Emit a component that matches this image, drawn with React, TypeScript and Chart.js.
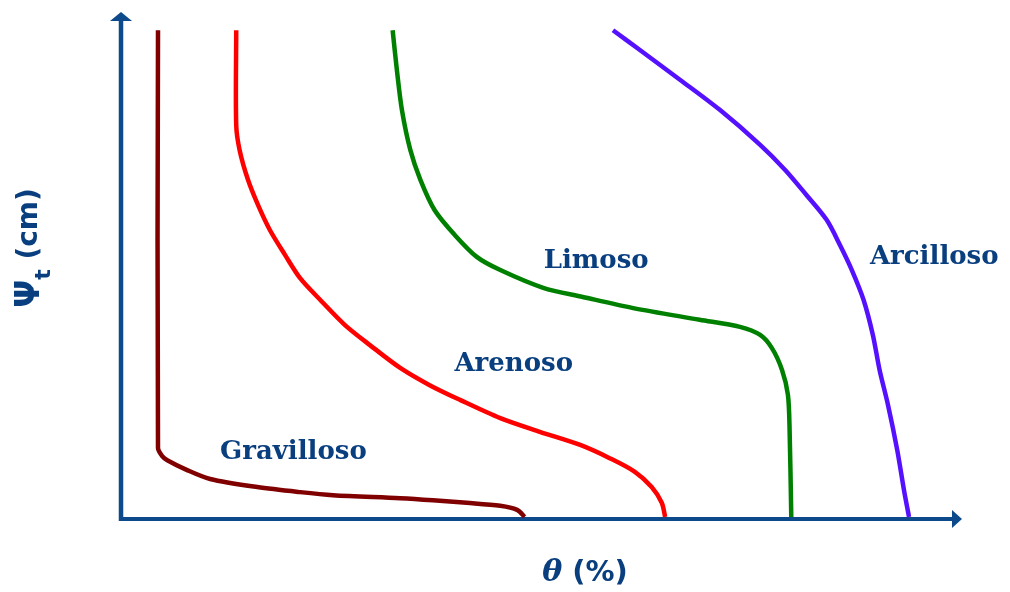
import React, { useEffect, useRef } from "react";
import { Chart, registerables } from "chart.js";

Chart.register(...registerables);

// θ (%) values (arbitrary 0–100 scale, no ticks in the original)
const gravX = [4.4, 4.4, 4.9, 5.5, 7.8, 10.6, 16.2, 21.3, 25.2, 33.2, 37.1, 41.1, 45.1, 47.1, 48.0];
const gravY = [96.4, 14.0, 12.4, 11.6, 9.7, 7.9, 6.3, 5.3, 4.7, 4.1, 3.7, 3.2, 2.6, 1.8, 0.4];

const arenX = [13.7, 13.7, 14.1, 15.1, 16.3, 17.7, 19.5, 21.3, 23.7, 26.6, 29.6, 33.2, 36.7, 40.3, 45.1, 49.8, 54.6, 58.1, 61.1, 63.1, 64.3, 64.7];
const arenY = [96.4, 77.7, 72.8, 66.9, 61.9, 57.0, 52.1, 47.5, 43.2, 38.3, 34.3, 29.8, 26.4, 23.5, 19.9, 17.2, 14.6, 12.0, 9.3, 6.3, 3.2, 0.4];

const limoX = [32.3, 32.8, 33.4, 34.4, 35.6, 37.3, 39.7, 42.3, 45.1, 50.2, 54.9, 60.9, 68.8, 73.6, 76.0, 77.4, 78.6, 79.3, 79.5, 79.7];
const limoY = [96.4, 88.6, 80.7, 72.8, 66.9, 60.9, 56.0, 51.7, 49.1, 45.6, 43.8, 41.6, 39.3, 37.9, 36.3, 33.7, 29.4, 24.5, 17.6, 0.4];

const arciX = [58.5, 61.7, 66.5, 71.2, 76.0, 79.0, 81.5, 83.9, 85.5, 86.9, 88.3, 89.4, 90.2, 91.2, 92.3, 93.1, 93.7];
const arciY = [96.4, 92.5, 86.6, 80.7, 73.8, 68.8, 63.9, 59.0, 54.0, 49.1, 43.2, 36.3, 29.4, 22.5, 13.6, 5.7, 0.4];

const seriesNames = ["Gravilloso", "Arenoso", "Limoso", "Arcilloso"];
const seriesColors = ["#800000", "#ff0000", "#008000", "#5511ff"];

// label anchor positions (data units)
const labelX = [20.5, 46.7, 56.5, 96.7];
const labelY = [13.2, 30.6, 50.9, 51.7];

const xTitle = "θ (%)";
const yTitleMain = "Ψ";
const yTitleSub = "t";
const yTitleRest = " (cm)";

const AXIS_COLOR = "#0d4a8c";
const TEXT_COLOR = "#0a3f7f";

function zip(xs: number[], ys: number[]) {
  return xs.map((x, i) => ({ x, y: ys[i] }));
}

const decorPlugin = {
  id: "decor",
  beforeDatasetsDraw(chart: any) {
    const ctx = chart.ctx;
    const xs = chart.scales.x;
    const ys = chart.scales.y;
    const x0 = xs.getPixelForValue(0);
    const y0 = ys.getPixelForValue(0);
    const xMax = xs.getPixelForValue(100);
    const yMax = ys.getPixelForValue(100);
    ctx.save();
    ctx.strokeStyle = AXIS_COLOR;
    ctx.fillStyle = AXIS_COLOR;
    ctx.lineWidth = 4.5;
    ctx.beginPath();
    ctx.moveTo(x0, y0 + 2);
    ctx.lineTo(x0, yMax + 8);
    ctx.stroke();
    ctx.lineWidth = 4;
    ctx.beginPath();
    ctx.moveTo(x0 - 2, y0);
    ctx.lineTo(xMax - 8, y0);
    ctx.stroke();
    // arrowheads
    ctx.beginPath();
    ctx.moveTo(x0, yMax);
    ctx.lineTo(x0 + 11, yMax + 9);
    ctx.lineTo(x0 - 11, yMax + 9);
    ctx.closePath();
    ctx.fill();
    ctx.beginPath();
    ctx.moveTo(xMax, y0);
    ctx.lineTo(xMax - 10, y0 - 9);
    ctx.lineTo(xMax - 10, y0 + 9);
    ctx.closePath();
    ctx.fill();
    ctx.restore();
  },
  afterDraw(chart: any) {
    const ctx = chart.ctx;
    const xs = chart.scales.x;
    const ys = chart.scales.y;
    ctx.save();
    ctx.fillStyle = TEXT_COLOR;
    ctx.textAlign = "center";
    ctx.textBaseline = "middle";
    ctx.font = "bold 26px 'DejaVu Serif'";
    seriesNames.forEach((name, i) => {
      ctx.fillText(name, xs.getPixelForValue(labelX[i]), ys.getPixelForValue(labelY[i]));
    });
    // x title
    ctx.textAlign = "left";
    ctx.font = "italic bold 30px 'DejaVu Serif'";
    const thetaW = ctx.measureText("θ").width;
    ctx.font = "bold 29px 'DejaVu Sans'";
    const restW = ctx.measureText(" (%)").width;
    const total = thetaW + restW;
    const cx = 585;
    const cy = 573;
    ctx.font = "italic bold 30px 'DejaVu Serif'";
    ctx.fillText("θ", cx - total / 2, cy);
    ctx.font = "bold 29px 'DejaVu Sans'";
    ctx.fillText(" (%)", cx - total / 2 + thetaW, cy);
    // y title (rotated)
    ctx.translate(30, 248);
    ctx.rotate(-Math.PI / 2);
    ctx.font = "bold 33px 'DejaVu Sans'";
    const psiW = ctx.measureText(yTitleMain).width;
    ctx.font = "bold 22px 'DejaVu Sans'";
    const subW = ctx.measureText(yTitleSub).width;
    ctx.font = "bold 28px 'DejaVu Sans'";
    const cmW = ctx.measureText(yTitleRest).width;
    const tot = psiW + subW + cmW;
    let px = -tot / 2;
    ctx.font = "bold 33px 'DejaVu Sans'";
    ctx.fillText(yTitleMain, px, 0);
    px += psiW;
    ctx.font = "bold 22px 'DejaVu Sans'";
    ctx.fillText(yTitleSub, px, 14);
    px += subW;
    ctx.font = "bold 28px 'DejaVu Sans'";
    ctx.fillText(yTitleRest, px, 0);
    ctx.restore();
  },
};

export default function App() {
  const ref = useRef<HTMLCanvasElement | null>(null);
  useEffect(() => {
    document.body.style.margin = "0";
    const canvas = ref.current!;
    const sets = [
      zip(gravX, gravY),
      zip(arenX, arenY),
      zip(limoX, limoY),
      zip(arciX, arciY),
    ];
    const chart = new Chart(canvas, {
      type: "scatter",
      data: {
        datasets: sets.map((d, i) => ({
          label: seriesNames[i],
          data: d,
          showLine: true,
          borderColor: seriesColors[i],
          backgroundColor: seriesColors[i],
          borderWidth: 4.5,
          pointRadius: 0,
          tension: 0.3,
          borderCapStyle: "butt",
          borderJoinStyle: "round",
        })),
      },
      options: {
        animation: false,
        responsive: false,
        devicePixelRatio: 1,
        layout: { padding: { left: 121, right: 48, top: 12, bottom: 73 } },
        plugins: { legend: { display: false }, tooltip: { enabled: false } },
        scales: {
          x: { type: "linear", min: 0, max: 100, display: false },
          y: { type: "linear", min: 0, max: 100, display: false },
        },
      },
      plugins: [decorPlugin],
    } as any);
    return () => chart.destroy();
  }, []);
  return (
    <div style={{ position: "absolute", left: 0, top: 0, width: 1010, height: 592, background: "#fff" }}>
      <canvas ref={ref} width={1010} height={592} />
    </div>
  );
}
